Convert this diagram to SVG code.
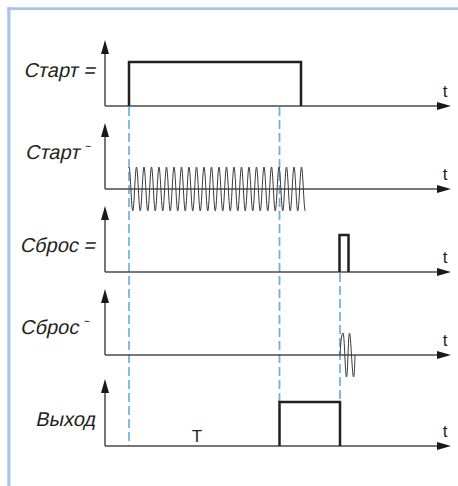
<svg xmlns="http://www.w3.org/2000/svg" width="458" height="486" viewBox="0 0 458 486">
<style>
.axis{stroke:#4a4a4a;stroke-width:1.5;fill:none}
.sig{stroke:#231f20;stroke-width:2.5;fill:none;stroke-linejoin:miter}
.osc{stroke:#3a3a3a;stroke-width:1;fill:none}
.lbl{font-family:"Liberation Sans",Arial,sans-serif;font-size:20px;fill:#231f20}
.tl{font-family:"Liberation Sans",Arial,sans-serif;font-size:17px;fill:#231f20;text-anchor:middle}
.til{font-size:11px}
.dash{stroke:#3d99d6;stroke-width:1.3;stroke-dasharray:9 4;fill:none}
.dash2{stroke:#6cb2de;stroke-width:1.8;stroke-dasharray:9 4;fill:none}
</style>
<defs>
<marker id="ah" viewBox="0 0 14 8" refX="0" refY="4" markerWidth="14" markerHeight="8" markerUnits="userSpaceOnUse" orient="auto">
<path d="M0,0 L14,4 L0,8 Z" fill="#1a1a1a"/>
</marker>
</defs>
<rect x="0" y="0" width="458" height="486" fill="#ffffff"/>
<rect x="7.3" y="7.3" width="450.7" height="2.8" fill="#a8c4e8"/>
<rect x="7.3" y="7.3" width="3.2" height="478.7" fill="#a8c4e8"/>

<g id="connectors">
<line class="dash" x1="129" y1="107" x2="129" y2="446"/>
<line class="dash2" x1="279.5" y1="107" x2="279.5" y2="402"/>
<line class="dash" x1="340" y1="273" x2="340" y2="402"/>
</g>

<g id="start-dc">
<line class="axis" x1="105" y1="106" x2="105" y2="54" marker-end="url(#ah)"/>
<line class="axis" x1="105" y1="106" x2="437" y2="106" marker-end="url(#ah)"/>
<path class="sig" d="M129,106 V62 H301 V106"/>
<text class="lbl" transform="translate(95,77) skewX(-12)" text-anchor="end">Старт =</text>
<text class="tl" x="445" y="97">t</text>
</g>

<g id="start-ac">
<line class="axis" x1="105" y1="189" x2="105" y2="137" marker-end="url(#ah)"/>
<line class="axis" x1="105" y1="189" x2="437" y2="189" marker-end="url(#ah)"/>
<path class="osc" d="M129,167 C130.35,167 131.4,211 132.75,211 S135.15,167 136.5,167 S138.9,211 140.25,211 S142.65,167 144,167 S146.4,211 147.75,211 S150.15,167 151.5,167 S153.9,211 155.25,211 S157.65,167 159,167 S161.4,211 162.75,211 S165.15,167 166.5,167 S168.9,211 170.25,211 S172.65,167 174,167 S176.4,211 177.75,211 S180.15,167 181.5,167 S183.9,211 185.25,211 S187.65,167 189,167 S191.4,211 192.75,211 S195.15,167 196.5,167 S198.9,211 200.25,211 S202.65,167 204,167 S206.4,211 207.75,211 S210.15,167 211.5,167 S213.9,211 215.25,211 S217.65,167 219,167 S221.4,211 222.75,211 S225.15,167 226.5,167 S228.9,211 230.25,211 S232.65,167 234,167 S236.4,211 237.75,211 S240.15,167 241.5,167 S243.9,211 245.25,211 S247.65,167 249,167 S251.4,211 252.75,211 S255.15,167 256.5,167 S258.9,211 260.25,211 S262.65,167 264,167 S266.4,211 267.75,211 S270.15,167 271.5,167 S273.9,211 275.25,211 S277.65,167 279,167 S281.4,211 282.75,211 S285.15,167 286.5,167 S288.9,211 290.25,211 S292.65,167 294,167 S296.4,211 297.75,211 S300.15,167 301.5,167 S303.9,211 305.25,211"/>
<text class="lbl" transform="translate(25,159) skewX(-12)">Старт<tspan class="til" dy="-9"> ~</tspan></text>
<text class="tl" x="445" y="180">t</text>
</g>

<g id="reset-dc">
<line class="axis" x1="105" y1="272" x2="105" y2="220" marker-end="url(#ah)"/>
<line class="axis" x1="105" y1="272" x2="437" y2="272" marker-end="url(#ah)"/>
<path class="sig" d="M339.5,272 V235 H348.5 V272"/>
<text class="lbl" transform="translate(95,252) skewX(-12)" text-anchor="end">Сброс =</text>
<text class="tl" x="445" y="263">t</text>
</g>

<g id="reset-ac">
<line class="axis" x1="105" y1="355" x2="105" y2="303" marker-end="url(#ah)"/>
<line class="axis" x1="105" y1="355" x2="437" y2="355" marker-end="url(#ah)"/>
<path class="osc" d="M340,355 C340.8,340 341.8,333 343,333 C344.5,333 345.2,377 346.5,377 C347.8,377 348.2,333 349.5,333 C350.8,333 352.2,377 353.5,377 C354.5,377 354.8,362 355,355"/>
<text class="lbl" transform="translate(20,334) skewX(-12)">Сброс<tspan class="til" dy="-9"> ~</tspan></text>
<text class="tl" x="445" y="346">t</text>
</g>

<g id="output">
<line class="axis" x1="105" y1="446" x2="105" y2="393" marker-end="url(#ah)"/>
<line class="axis" x1="105" y1="446" x2="437" y2="446" marker-end="url(#ah)"/>
<path class="sig" d="M279.5,446 V402 H340 V446"/>
<text class="lbl" transform="translate(95,426) skewX(-12)" text-anchor="end">Выход</text>
<text class="tl" x="197" y="442">T</text>
<text class="tl" x="445" y="437">t</text>
</g>
</svg>
